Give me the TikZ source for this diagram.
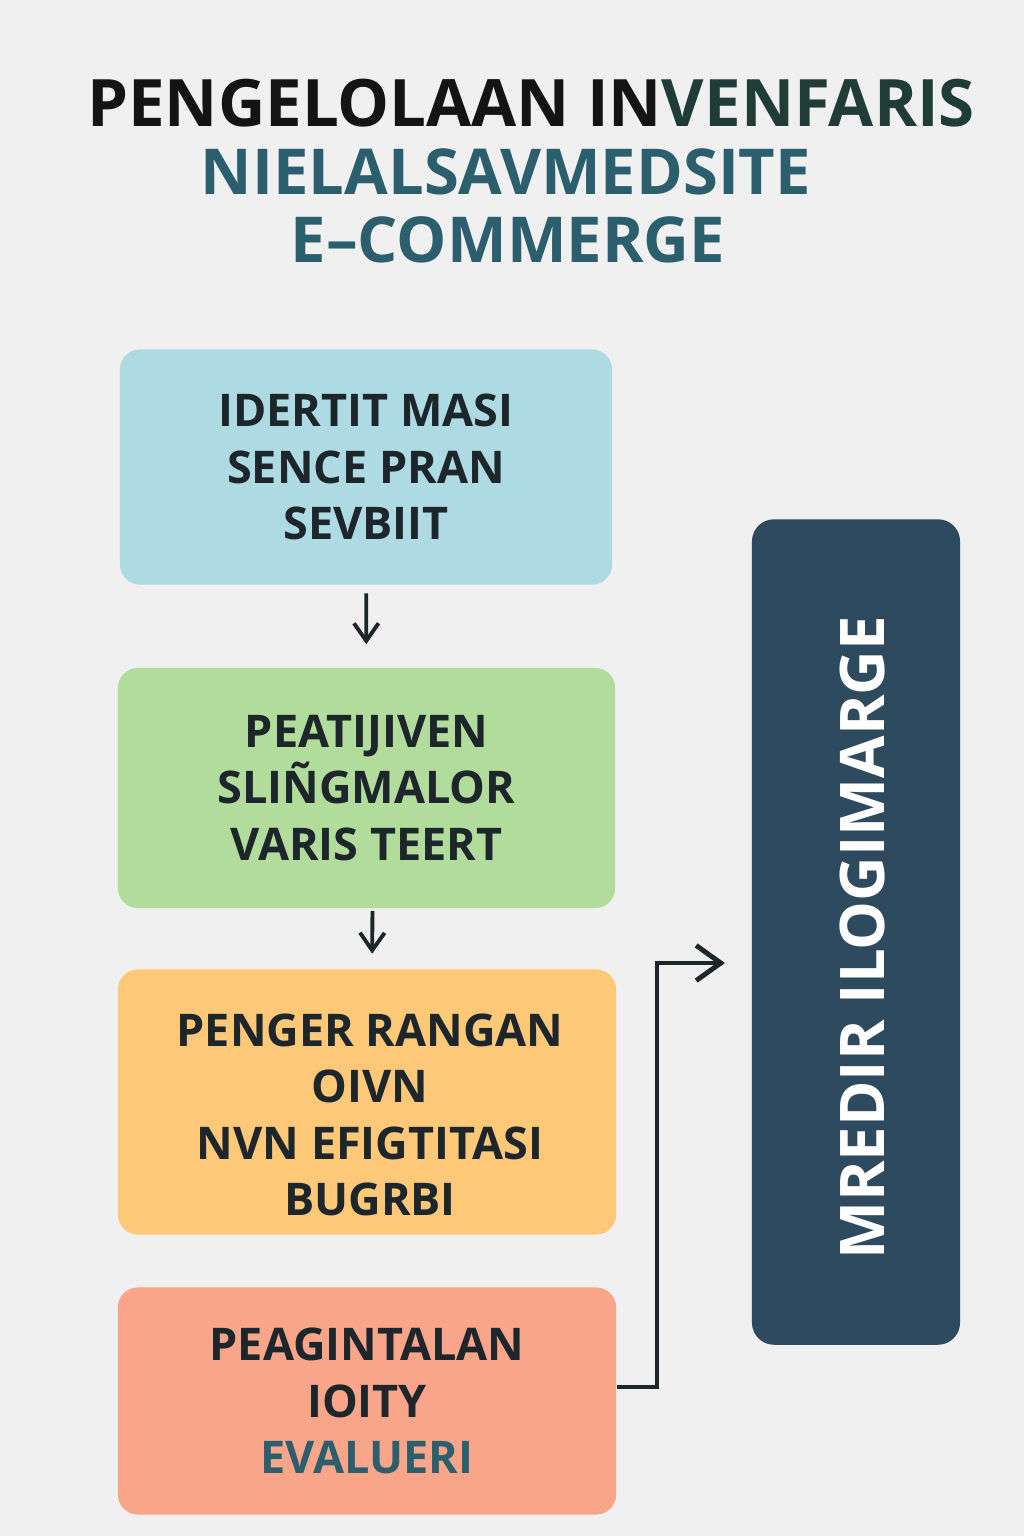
\documentclass[tikz,border=0pt]{standalone}
\usepackage{fontspec}
\setsansfont{Open Sans}
\usetikzlibrary{arrows.meta,positioning}
\definecolor{bgray}{HTML}{F0F0F0}
\definecolor{tealtitle}{HTML}{2C5F6E}
\definecolor{greentitle}{HTML}{1F3D36}
\definecolor{inkdark}{HTML}{1C262B}
\definecolor{boxblue}{HTML}{ADDAE3}
\definecolor{boxgreen}{HTML}{B2DC9B}
\definecolor{boxorange}{HTML}{FDC878}
\definecolor{boxsalmon}{HTML}{F9A58A}
\definecolor{boxnavy}{HTML}{2E4A5F}
\tikzset{
  titletext/.style={font=\sffamily\bfseries\fontsize{18}{22}\selectfont},
  stepbox/.style={rounded corners=0.2cm,minimum width=4.95cm,minimum height=2.35cm,
    align=center,text=inkdark,font=\sffamily\bfseries\fontsize{12.8}{16}\selectfont},
  flowarrow/.style={-{Straight Barb[length=5pt,width=7pt]},line width=1.1pt,draw=inkdark}
}
\begin{document}
\begin{tikzpicture}[x=0.01cm,y=-0.01cm]
% background
\fill[bgray] (0,0) rectangle (1024,1536);
\useasboundingbox (0,0) rectangle (1024,1536);

% title
\node[titletext,font=\sffamily\bfseries\fontsize{18.6}{22}\selectfont,text=black!92] (title1) at (531,103)
  {PENGELOLAAN IN{\color{greentitle}VENFARIS}};
\node[titletext,text=tealtitle] (title2) at (506,172) {NIELALSAVMEDSITE};
\node[titletext,text=tealtitle] (title3) at (508,240) {E--COMMERGE};

% steps
\node[stepbox,fill=boxblue,minimum width=4.92cm] (identify) at (366,467)
  {IDERTIT MASI\\SENCE PRAN\\SEVBIIT};
\node[stepbox,fill=boxgreen,minimum width=4.97cm,minimum height=2.4cm] (monitor) at (366.5,788)
  {PEATIJIVEN\\SLIÑGMALOR\\VARIS TEERT};
\node[stepbox,fill=boxorange,minimum width=4.98cm,minimum height=2.65cm] (plan) at (367,1102) {};
\node[stepbox] (plantext) at (370,1115) {PENGER RANGAN\\OIVN\\NVN EFIGTITASI\\BUGRBI};
\node[stepbox,fill=boxsalmon,minimum width=4.98cm,minimum height=2.27cm] (evaluate) at (367,1401)
  {PEAGINTALAN\\IOITY\\{\color{tealtitle}EVALUERI}};

% side panel
\node[rounded corners=0.22cm,fill=boxnavy,minimum width=2.08cm,minimum height=8.25cm] (panel) at (856,932) {};
\node[rotate=90,text=white,font=\sffamily\bfseries\fontsize{17.5}{22}\selectfont] (paneltext) at (862,938)
  {MREDIR ILOGIMARGE};

% arrows
\draw[flowarrow,shorten <=0.08cm,shorten >=0.23cm] (identify) -- (monitor);
\draw[flowarrow,shorten <=0.02cm,shorten >=0.15cm] ([xshift=0.06cm]monitor.south) -- ([xshift=0.05cm]plan.north);
\coordinate (tip) at (725,963);
\draw[flowarrow,line width=1.4pt,-{Straight Barb[length=7pt,width=10pt]}]
  ([yshift=0.14cm]evaluate.east) -| (657,963) -- (tip);
\end{tikzpicture}
\end{document}
